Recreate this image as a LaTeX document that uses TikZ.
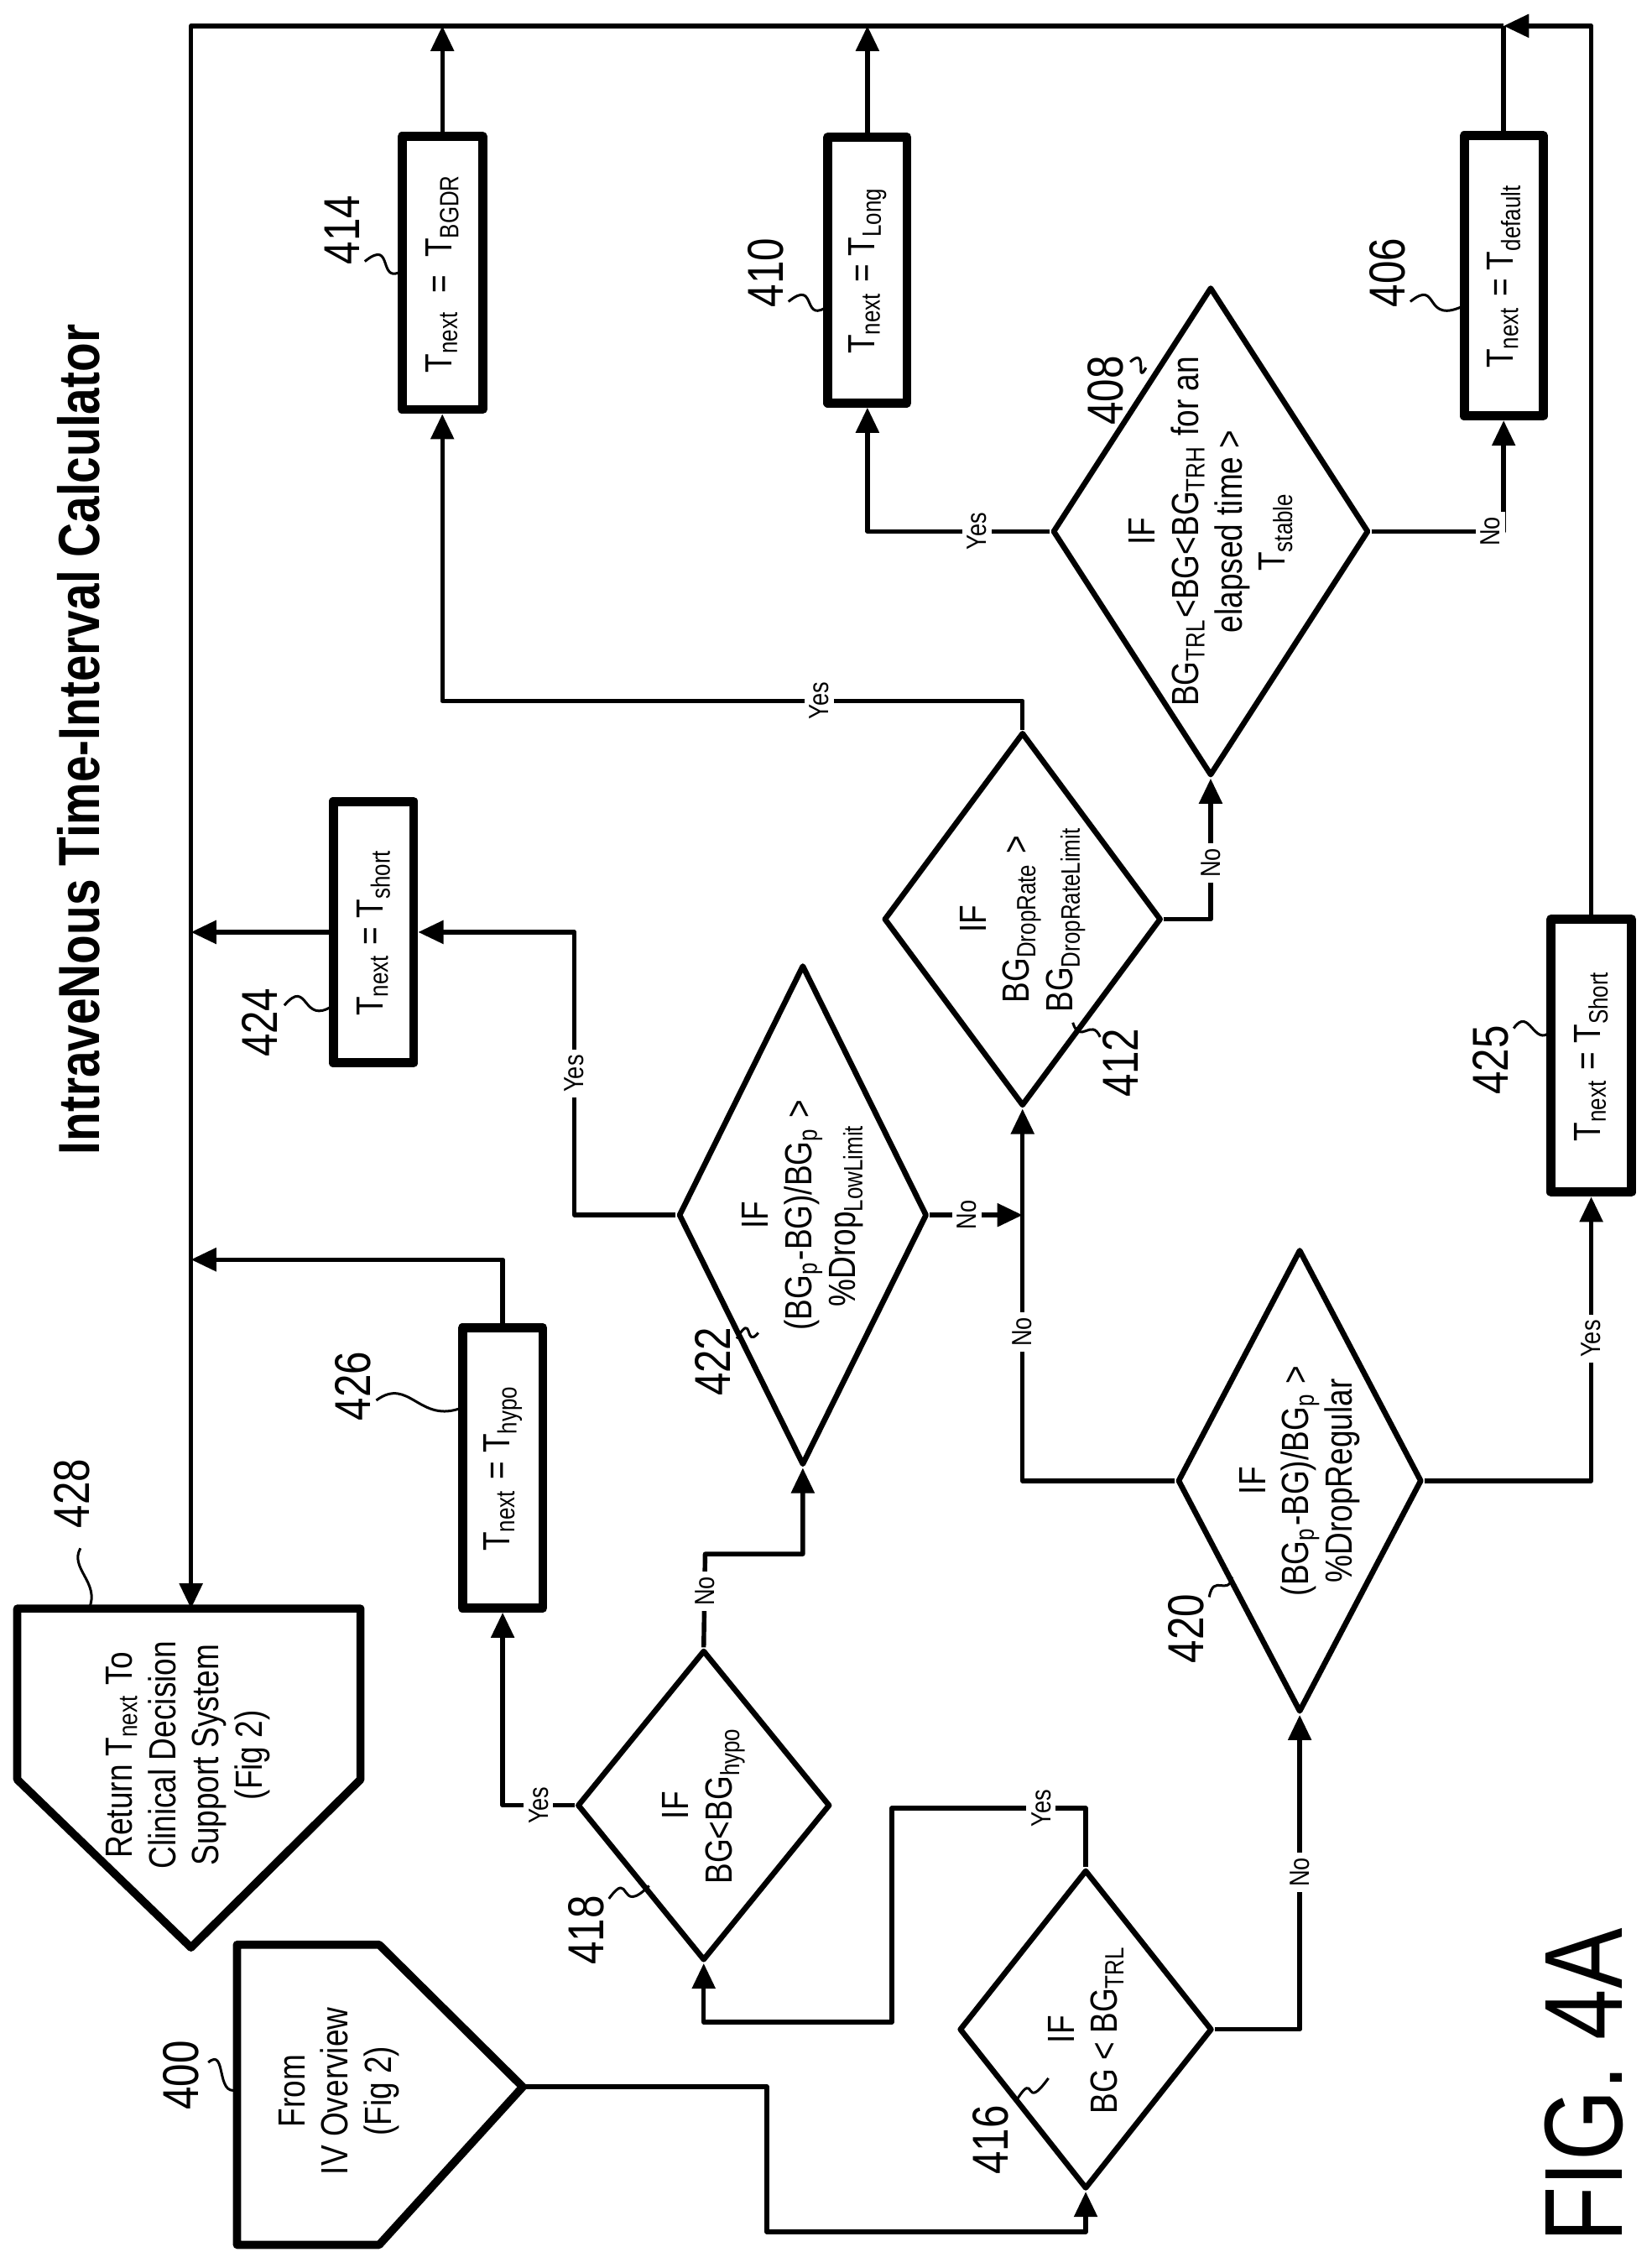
\documentclass[tikz,border=0pt]{standalone}
\usepackage{fontspec}
\setmainfont{Liberation Sans}[FakeStretch=0.82]
\usetikzlibrary{shapes.geometric,arrows.meta,positioning}

\tikzset{
  dia/.style={draw,diamond,line width=1.1pt,inner sep=0pt},
  box/.style={draw,rectangle,line width=1.8pt,inner sep=0pt},
  flow/.style={line width=0.9pt,-{Triangle[length=5pt,width=4.5pt]}},
  wire/.style={line width=0.9pt},
  txt/.style={rotate=90,align=center,font=\fontsize{7.5}{8.6}\selectfont},
  tag/.style={rotate=90,font=\fontsize{5.5}{6}\selectfont,fill=white,inner sep=1pt},
  num/.style={rotate=90,font=\fontsize{10}{10}\selectfont},
  sq/.style={line width=0.5pt}
}
\newcommand{\tn}{T\textsubscript{next}}

\begin{document}
\begin{tikzpicture}[x=0.01cm,y=-0.01cm,line join=round]
\useasboundingbox (0,0) rectangle (1150,1568);
% title and figure number
\node[rotate=90,font=\bfseries\fontsize{11.5}{11.5}\selectfont] (title) at (55,515) {IntraveNous Time-Interval Calculator};
\node[rotate=90,font=\fontsize{22}{22}\selectfont] (fig) at (1103,1452) {FIG. 4A};

% terminals
\draw[line width=1.6pt] (12,1120) -- (251,1120) -- (251,1239) -- (133,1356) -- (12,1239) -- cycle;
\coordinate (t428) at (133,1120);
\node[txt] (n428) at (131,1222) {Return \tn{} To\\Clinical Decision\\Support System\\(Fig 2)};
\draw[line width=1.6pt] (165,1354) -- (264,1354) -- (364,1453) -- (264,1563) -- (165,1563) -- cycle;
\coordinate (t400) at (364,1453);
\node[txt] (n400) at (236,1456) {From\\IV Overview\\(Fig 2)};

% decisions
\node[dia,minimum width=1.76cm,minimum height=2.22cm,label={[txt]center:IF\\BG < BG\textsubscript{TRL}}] (d416) at (756,1413) {};
\node[dia,minimum width=1.76cm,minimum height=2.16cm,label={[txt]center:IF\\BG<BG\textsubscript{hypo}}] (d418) at (490,1257) {};
\node[dia,minimum width=1.73cm,minimum height=3.48cm,label={[txt]center:IF\\(BG\textsubscript{p}-BG)/BG\textsubscript{p} >\\\%Drop\textsubscript{LowLimit}}] (d422) at (559,846) {};
\node[dia,minimum width=1.70cm,minimum height=3.22cm,label={[txt]center:IF\\(BG\textsubscript{p}-BG)/BG\textsubscript{p} >\\\%DropRegular}] (d420) at (905,1031) {};
\node[dia,minimum width=1.93cm,minimum height=2.60cm,label={[txt]center:IF\\BG\textsubscript{DropRate} >\\BG\textsubscript{DropRateLimit}}] (d412) at (712,640) {};
\node[dia,minimum width=2.20cm,minimum height=3.40cm,label={[txt]center:IF\\BG\textsubscript{TRL}<BG<BG\textsubscript{TRH} for an\\elapsed time >\\T\textsubscript{stable}}] (d408) at (843,370) {};

% results
\node[box,minimum width=0.56cm,minimum height=1.90cm] (b414) at (308,190) {\rotatebox{90}{\fontsize{7.5}{8}\selectfont\tn\ \ = \ T\textsubscript{BGDR}}};
\node[box,minimum width=0.55cm,minimum height=1.85cm] (b410) at (604,188) {\rotatebox{90}{\fontsize{7.5}{8}\selectfont\tn{} = T\textsubscript{Long}}};
\node[box,minimum width=0.55cm,minimum height=1.95cm] (b406) at (1047,192) {\rotatebox{90}{\fontsize{7.5}{8}\selectfont\tn{} = T\textsubscript{default}}};
\node[box,minimum width=0.56cm,minimum height=1.82cm] (b424) at (260,649) {\rotatebox{90}{\fontsize{7.5}{8}\selectfont\tn{} = T\textsubscript{short}}};
\node[box,minimum width=0.56cm,minimum height=1.95cm] (b426) at (350,1022) {\rotatebox{90}{\fontsize{7.5}{8}\selectfont\tn{} = T\textsubscript{hypo}}};
\node[box,minimum width=0.56cm,minimum height=1.90cm] (b425) at (1108,735) {\rotatebox{90}{\fontsize{7.5}{8}\selectfont\tn{} = T\textsubscript{Short}}};

% return bus
\coordinate (top406) at (1047,18);
\coordinate (top414) at (308,18);
\coordinate (top410) at (604,18);
\coordinate (bus) at (133,18);
\draw[flow] (b425.north) |- (top406);
\draw[wire] (b406.north) -- (top406);
\draw[flow] (top406) -- (bus) -- (t428);
\draw[flow] (b414.north) -- (top414);
\draw[flow] (b410.north) -- (top410);
\draw[flow] (b426.north) |- (133,877);
\draw[flow] (b424.west) -- (133,649);

% decisions wiring
\draw[wire] (t400) -- (534,1453) -- (534,1554) -| (756,1540);
\draw[flow] (756,1554) -- (d416.south);
\draw[flow] (d416.north) -- (756,1259) -- node[tag,pos=0.23]{Yes} (621,1259) -- (621,1408) -| (d418.south);
\draw[flow] (d416.east) -| node[tag,pos=0.75]{No} (d420.south);
\draw[flow] (d418.west) -- (350,1257) node[tag,pos=0.5]{Yes} -- (b426.south);
\draw[flow] (d418.north) -- node[tag,pos=0.6]{No} (491,1082) -| (d422.south);
\draw[flow] (d422.west) -- (400,846) -- node[tag]{Yes} (400,649) -- (b424.east);
\draw[flow] (d422.east) -- node[tag,pos=0.4]{No} (712,846);
\draw[flow] (d420.west) -| node[tag,pos=0.7]{No} (d412.south);
\draw[flow] (d420.east) -| node[tag,pos=0.75]{Yes} (b425.south);
\draw[flow] (d412.north) -- (712,488) -- node[tag,pos=0.35]{Yes} (308,488) -- (b414.south);
\draw[flow] (d412.east) -| node[tag,pos=0.7]{No} (d408.south);
\draw[flow] (d408.west) -- node[tag,pos=0.4]{Yes} (604,370) -- (b410.south);
\draw[flow] (d408.east) -- node[tag,pos=0.9]{No} (1047,370) -- (b406.south);

% reference numerals
\node[num] (l414) at (238,160) {414};
\draw[sq] (254,182) .. controls (275,165) and (262,200) .. (281,188);
\node[num] (l410) at (533,190) {410};
\draw[sq] (549,210) .. controls (570,193) and (557,228) .. (578,212);
\node[num] (l406) at (966,190) {406};
\draw[sq] (982,210) .. controls (1003,193) and (990,228) .. (1021,212);
\node[num] (l408) at (770,272) {408};
\draw[sq] (787,252) .. controls (800,240) and (790,270) .. (798,256);
\node[num] (l412) at (780,740) {412};
\draw[sq] (766,722) .. controls (760,708) and (752,728) .. (747,712);
\node[num] (l424) at (181,712) {424};
\draw[sq] (198,700) .. controls (215,680) and (210,715) .. (232,700);
\node[num] (l422) at (496,948) {422};
\draw[sq] (513,932) .. controls (525,912) and (518,940) .. (528,928);
\node[num] (l426) at (246,965) {426};
\draw[sq] (262,975) .. controls (285,958) and (292,992) .. (322,980);
\node[num] (l425) at (1038,738) {425};
\draw[sq] (1054,716) .. controls (1065,700) and (1068,730) .. (1080,718);
\node[num] (l420) at (826,1134) {420};
\draw[sq] (842,1112) .. controls (845,1095) and (855,1112) .. (858,1098);
\node[num] (l418) at (408,1344) {418};
\draw[sq] (424,1322) .. controls (440,1300) and (430,1335) .. (452,1313);
\node[num] (l416) at (690,1490) {416};
\draw[sq] (708,1462) .. controls (722,1440) and (712,1472) .. (730,1447);
\node[num] (l400) at (126,1445) {400};
\draw[sq] (145,1436) .. controls (158,1425) and (150,1460) .. (165,1455);
\node[num] (l428) at (50,1040) {428};
\draw[sq] (56,1078) .. controls (48,1092) and (70,1102) .. (62,1120);
\end{tikzpicture}
\end{document}
